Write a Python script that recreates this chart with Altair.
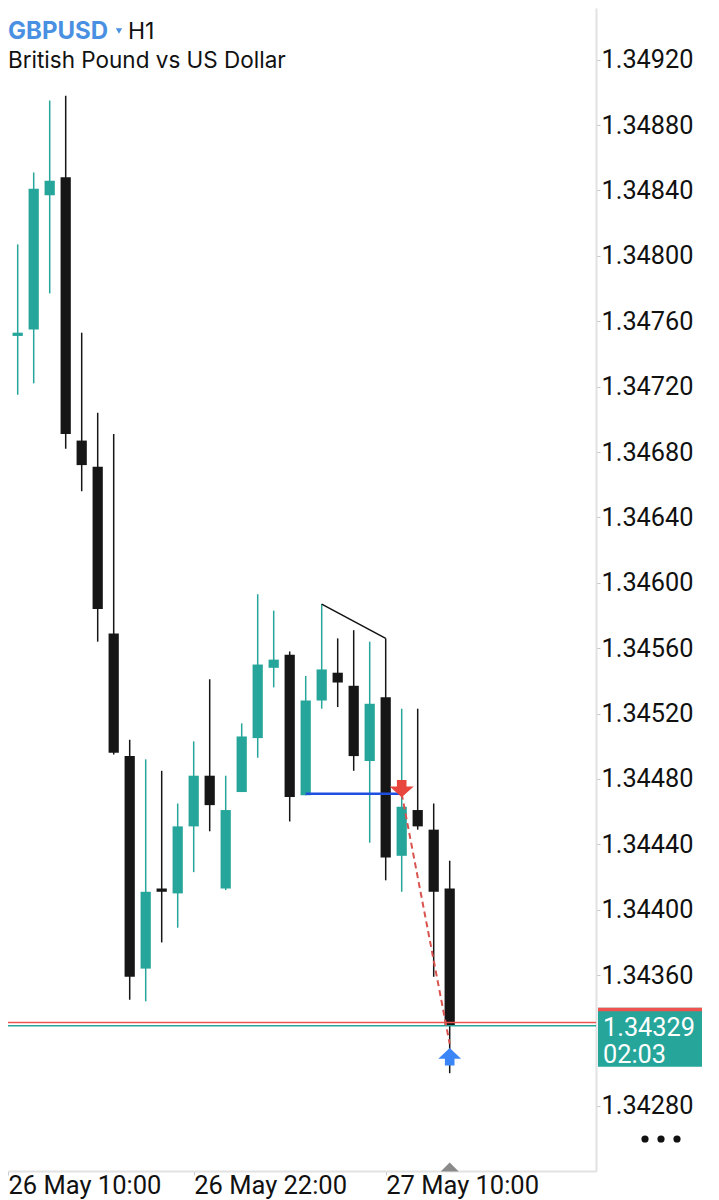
import altair as alt
import pandas as pd

# ---------------- data ----------------
# H1 candles, index 0 = 26 May 10:00 ... index 28 = 27 May 14:00
opens  = [1.34779, 1.34751, 1.34755, 1.34837, 1.34848, 1.34687, 1.34671, 1.34569, 1.34494, 1.34364,
          1.34413, 1.34410, 1.34451, 1.34482, 1.34413, 1.34472, 1.34505, 1.34548, 1.34556, 1.34470,
          1.34528, 1.34545, 1.34537, 1.34491, 1.34530, 1.34433, 1.34461, 1.34449, 1.34413]
highs  = [1.34780, 1.34807, 1.34851, 1.34895, 1.34898, 1.34753, 1.34704, 1.34691, 1.34504, 1.34492,
          1.34485, 1.34465, 1.34503, 1.34541, 1.34482, 1.34514, 1.34593, 1.34583, 1.34558, 1.34543,
          1.34587, 1.34566, 1.34571, 1.34564, 1.34566, 1.34523, 1.34523, 1.34465, 1.34430]
lows   = [1.34646, 1.34715, 1.34722, 1.34777, 1.34682, 1.34656, 1.34564, 1.34495, 1.34345, 1.34344,
          1.34380, 1.34389, 1.34423, 1.34448, 1.34412, 1.34472, 1.34493, 1.34536, 1.34454, 1.34470,
          1.34523, 1.34524, 1.34485, 1.34441, 1.34418, 1.34411, 1.34449, 1.34359, 1.34300]
closes = [1.34750, 1.34753, 1.34841, 1.34846, 1.34691, 1.34672, 1.34584, 1.34496, 1.34359, 1.34411,
          1.34411, 1.34451, 1.34482, 1.34464, 1.34461, 1.34506, 1.34550, 1.34553, 1.34469, 1.34528,
          1.34547, 1.34539, 1.34494, 1.34526, 1.34432, 1.34463, 1.34451, 1.34411, 1.34329]

x_tick_idx = [0, 12, 24]
x_tick_lbl = ["26 May 10:00", "26 May 22:00", "27 May 10:00"]
y_ticks = [1.34920, 1.34880, 1.34840, 1.34800, 1.34760, 1.34720, 1.34680, 1.34640,
           1.34600, 1.34560, 1.34520, 1.34480, 1.34440, 1.34400, 1.34360, 1.34280]

bid = 1.34329
ask = 1.34331
timer = "02:03"

trend_idx = [20, 24]          # trendline joins the highs of these candles
entry_idx, exit_idx = 25, 28
level_start_idx = 19
entry_price = 1.34471
exit_price = 1.34318

symbol = "GBPUSD"
period = "H1"
subtitle = "British Pound vs US Dollar"

# ---------------- styling / layout ----------------
W, H = 588, 1163
X0 = 0.394
X1 = X0 + 36.75
Y_LO, Y_HI = 1.342402, 1.349516
PPX = (Y_HI - Y_LO) / H           # price per pixel
HALF_BODY = 0.32                  # half body width in candle units (16 px per candle)

TEAL = "#26a69a"
BLACK = "#161616"
RED = "#ef5350"
BLUE_LINE = "#1f4fe0"
ARROW_BLUE = "#3b86f7"
ARROW_RED = "#e8453c"
AXIS_GREY = "#e2e2e2"
FONT = "Roboto"

df = pd.DataFrame({"i": list(range(len(opens))), "open": opens, "high": highs,
                   "low": lows, "close": closes})

xs = alt.Scale(domain=[X0, X1], nice=False, zero=False)
ys = alt.Scale(domain=[Y_LO, Y_HI], nice=False, zero=False)

lbl_expr = "[" + ",".join("'%s'" % s for s in x_tick_lbl) + "][round(datum.value/12)]"

x_enc = alt.X("i:Q", scale=xs, axis=alt.Axis(
    values=[max(v, X0 + 0.001) for v in x_tick_idx], labelExpr=lbl_expr,
    orient="bottom", domainColor=AXIS_GREY, domainWidth=2, tickColor="#c8c8c8",
    tickSize=4, labelAlign="left", labelBaseline="alphabetic", labelPadding=18,
    labelFontSize=25.5, labelFont=FONT, labelColor="#111111",
    labelFlush=False, labelOverlap=False, labelBound=False, grid=False, title=None))
y_axis = alt.Axis(values=y_ticks, format=".5f", orient="right", domainColor=AXIS_GREY,
                  domainWidth=2, tickColor="#c8c8c8", tickSize=4, labelPadding=1,
                  labelFontSize=25.3, labelFont=FONT, labelColor="#111111",
                  labelOverlap=False, grid=False, title=None)

col = alt.condition("datum.close >= datum.open", alt.value(TEAL), alt.value(BLACK))

base = alt.Chart(df)
wicks = base.mark_rule(strokeWidth=1.5).encode(
    x=x_enc, y=alt.Y("low:Q", scale=ys, axis=y_axis), y2="high:Q", color=col)
bodies = base.transform_calculate(
    xl="datum.i - %f" % HALF_BODY, xr="datum.i + %f" % HALF_BODY
).mark_rect().encode(
    x=alt.X("xl:Q", scale=xs), x2="xr:Q",
    y=alt.Y("open:Q", scale=ys), y2="close:Q", color=col)

ask_line = alt.Chart(pd.DataFrame({"p": [ask]})).mark_rule(color=RED, strokeWidth=1.5).encode(
    y=alt.Y("p:Q", scale=ys))
bid_line = alt.Chart(pd.DataFrame({"p": [bid]})).mark_rule(color=TEAL, strokeWidth=1.5).encode(
    y=alt.Y("p:Q", scale=ys))

level = alt.Chart(pd.DataFrame({"a": [level_start_idx], "b": [entry_idx], "p": [entry_price]})
                  ).mark_rule(color=BLUE_LINE, strokeWidth=2.5).encode(
    x=alt.X("a:Q", scale=xs), x2="b:Q", y=alt.Y("p:Q", scale=ys))

trend = alt.Chart(pd.DataFrame({"i": trend_idx, "p": [highs[k] for k in trend_idx]})
                  ).mark_line(color="#111111", strokeWidth=1.5).encode(
    x=alt.X("i:Q", scale=xs), y=alt.Y("p:Q", scale=ys))

trade = alt.Chart(pd.DataFrame({"i": [entry_idx, exit_idx], "p": [entry_price, exit_price]})
                  ).mark_line(color="#d9534f", strokeWidth=2, strokeDash=[6, 4]).encode(
    x=alt.X("i:Q", scale=xs), y=alt.Y("p:Q", scale=ys))

DOWN = "M0,0.3 L1,-0.6 L0.4,-0.6 L0.4,-1.15 L-0.4,-1.15 L-0.4,-0.6 L-1,-0.6 Z"
UP = "M0,0.35 L0.95,1.25 L0.4,1.25 L0.4,1.8 L-0.4,1.8 L-0.4,1.25 L-0.95,1.25 Z"
sell_arrow = alt.Chart(pd.DataFrame({"i": [entry_idx], "p": [entry_price]})).mark_point(
    shape=DOWN, filled=True, size=576, color=ARROW_RED, opacity=1, strokeWidth=0).encode(
    x=alt.X("i:Q", scale=xs), y=alt.Y("p:Q", scale=ys))
close_arrow = alt.Chart(pd.DataFrame({"i": [exit_idx], "p": [exit_price]})).mark_point(
    shape=UP, filled=True, size=576, color=ARROW_BLUE, opacity=1, strokeWidth=0).encode(
    x=alt.X("i:Q", scale=xs), y=alt.Y("p:Q", scale=ys))

bar_marker = alt.Chart(pd.DataFrame({"i": [len(opens) - 1]})).mark_point(
    shape="M0,-0.5 L1,0.5 L-1,0.5 Z", filled=True, size=324, color="#8a8a8a",
    opacity=1, strokeWidth=0).encode(x=alt.X("i:Q", scale=xs), y=alt.value(H - 4))

box = alt.Chart(pd.DataFrame({"t": [bid + 18 * PPX], "b": [bid - 41 * PPX]})).mark_rect(
    color=TEAL).encode(x=alt.value(590), x2=alt.value(694),
                       y=alt.Y("t:Q", scale=ys), y2="b:Q")
box_top = alt.Chart(pd.DataFrame({"t": [bid + 18 * PPX], "b": [bid + 14.5 * PPX]})).mark_rect(
    color=RED).encode(x=alt.value(590), x2=alt.value(694),
                      y=alt.Y("t:Q", scale=ys), y2="b:Q")
box_txt = alt.Chart(pd.DataFrame({"p": [bid], "s": ["%.5f\n%s" % (bid, timer)]})).mark_text(
    align="left", baseline="alphabetic", color="white", fontSize=25.3, font=FONT,
    lineBreak="\n", lineHeight=27, dy=10).encode(
    x=alt.value(595), y=alt.Y("p:Q", scale=ys), text="s:N")

dots = alt.Chart(pd.DataFrame({"px": [637, 653, 669]})).mark_circle(
    size=52, color="#111111", opacity=1).encode(
    x=alt.X("px:Q", scale=None), y=alt.value(1131))

t_sym = alt.Chart(pd.DataFrame({"s": [symbol]})).mark_text(
    align="left", baseline="alphabetic", fontSize=24, fontWeight="bold",
    font="Inter", color="#4a90e2").encode(x=alt.value(0), y=alt.value(31), text="s:N")
t_tri = alt.Chart(pd.DataFrame({"s": [symbol]})).mark_point(
    shape="triangle-down", filled=True, size=40, color="#4a90e2", opacity=1).encode(
    x=alt.value(111), y=alt.value(23))
t_per = alt.Chart(pd.DataFrame({"s": [period]})).mark_text(
    align="left", baseline="alphabetic", fontSize=23, font="Inter",
    color="#111111").encode(x=alt.value(120), y=alt.value(31), text="s:N")
t_sub = alt.Chart(pd.DataFrame({"s": [subtitle]})).mark_text(
    align="left", baseline="alphabetic", fontSize=22.5, font="Inter",
    color="#111111").encode(x=alt.value(0), y=alt.value(60), text="s:N")

chart = alt.layer(
    wicks, bodies, ask_line, bid_line, level, trend, trade, sell_arrow, close_arrow,
    bar_marker, box, box_top, box_txt, dots, t_sym, t_tri, t_per, t_sub
).properties(
    width=W, height=H,
    padding={"left": 0, "top": 0, "right": 115, "bottom": 29},
    autosize=alt.AutoSizeParams(type="none"),
    background="white",
).configure_view(stroke=None)

chart.save("out.html", embed_options={"renderer": "svg", "actions": False})
